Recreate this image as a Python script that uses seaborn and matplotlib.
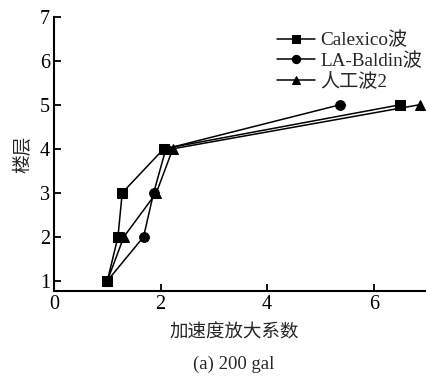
import pandas as pd
import matplotlib
matplotlib.use("Agg")
import matplotlib.pyplot as plt
import seaborn as sns

floors = [1, 2, 3, 4, 5]
calexico = [1.0, 1.2, 1.28, 2.06, 6.5]
la_baldin = [1.0, 1.68, 1.87, 2.1, 5.37]
artificial = [1.0, 1.31, 1.92, 2.23, 6.86]
series_names = ["Calexico波", "LA-Baldin波", "人工波2"]
markers = ["s", "o", "^"]

sns.set_theme(style="ticks")
fonts = ["Liberation Serif", "Noto Sans CJK SC"]
plt.rcParams["font.family"] = fonts

df = pd.DataFrame({
    "coef": calexico + la_baldin + artificial,
    "floor": floors * 3,
    "wave": [n for n in series_names for _ in floors],
})

fig = plt.figure(figsize=(4.27, 3.78), dpi=100)
ax = fig.add_axes([0.1265, 0.23, 0.8735, 0.726])

for name, m in zip(series_names, markers):
    sub = df[df["wave"] == name]
    sns.lineplot(data=sub, x="coef", y="floor", sort=False, ax=ax, color="black",
                 marker=m, markersize=7, markeredgecolor="black", linewidth=1.1,
                 label=name, estimator=None)

ax.set_xlim(0, 7.0)
ax.set_ylim(0.77, 7)
ax.set_xticks([0, 2, 4, 6])
ax.set_yticks([1, 2, 3, 4, 5, 6, 7])
ax.tick_params(direction="in", length=5, width=1.3, labelsize=14.5, colors="black", pad=3)
for s in ["top", "right"]:
    ax.spines[s].set_visible(False)
for s in ["left", "bottom"]:
    ax.spines[s].set_linewidth(1.5)
    ax.spines[s].set_color("black")

ax.set_xlabel("")
ax.set_ylabel("楼层", fontsize=13.5, labelpad=5)
fig.text(0.548, 0.119, "加速度放大系数", ha="center", va="center", fontsize=13.3)
fig.text(0.548, 0.037, "(a) 200 gal", ha="center", va="center", fontsize=13.5)

leg = ax.legend(loc="upper left", bbox_to_anchor=(0.648, 0.916), bbox_transform=fig.transFigure,
                frameon=False, fontsize=13.8, handlelength=2.0, handletextpad=0.28,
                labelspacing=0.15, borderpad=0, borderaxespad=0, markerscale=0.85)

fig.savefig("out.png", dpi=100)
